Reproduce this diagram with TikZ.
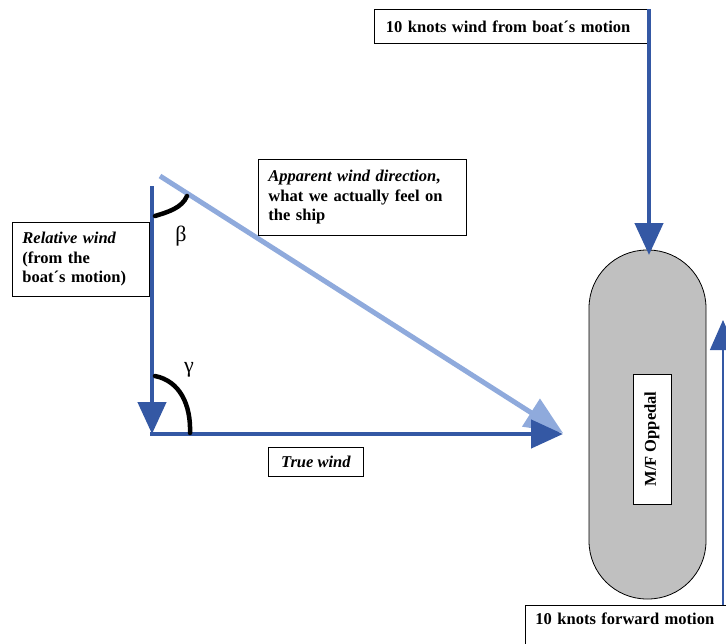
\documentclass[tikz,border=0pt]{standalone}
\usepackage{fontspec}
\setmainfont{Liberation Serif}
\usetikzlibrary{arrows.meta}
\definecolor{dblue}{HTML}{3458A4}
\definecolor{lblue}{HTML}{8FAADC}
\definecolor{shipgray}{HTML}{C0C0C0}
\tikzset{
  lbl/.style={draw=black, line width=0.9pt, fill=white, align=left, inner xsep=10pt, inner ysep=5pt, font=\fontsize{16.5}{19.5}\selectfont\bfseries, anchor=north west},
  bluearrow/.style={draw=dblue, line width=4.5pt, -{Triangle[length=32pt,width=28pt]}},
  lightarrow/.style={draw=lblue, line width=5pt, -{Triangle[length=38pt,width=32pt]}},
  anglearc/.style={draw=black, line width=4.5pt, line cap=round},
}
\begin{document}
\begin{tikzpicture}[x=1pt,y=-1pt]
\useasboundingbox (0,0) rectangle (726,643);
% ship
\node[draw=black, line width=0.8pt, fill=shipgray, rounded corners=58pt, minimum width=117pt, minimum height=349pt, inner sep=0pt] (ship) at (647.5,424.5) {};
\node[draw=black, line width=0.8pt, fill=white, minimum width=130pt, minimum height=38pt, inner sep=0pt, rotate=90, font=\fontsize{16.5}{18}\selectfont\bfseries] (name) at (652,439) {M/F Oppedal};
% top label and arrow
\node[lbl, minimum width=273pt, minimum height=34pt, text width=250pt] (top) at (374,9) {10 knots wind from boat´s motion};
\coordinate (topstart) at (649,9);
\draw[bluearrow] (topstart) -- (649,255);
% forward motion box and arrow
\node[lbl, minimum width=220pt, minimum height=50pt, text width=200pt, inner ysep=7pt] (fwd) at (525,605) {10 knots forward motion\\[0pt]\strut};
\coordinate (fwdtip) at (723,320);
\draw[draw=dblue, line width=1.3pt, -{Triangle[length=30pt,width=26pt]}] (723,605) -- (fwdtip);
% triangle
\coordinate (A) at (152,186);
\coordinate (B) at (152,434);
\coordinate (C) at (563,434);
\coordinate (D) at (160,176);
\draw[lightarrow] (D) -- (563,433);
\draw[bluearrow] (A) -- (B);
\draw[bluearrow] (150,434) -- (C);
% angle arcs
\draw[anglearc] (155,216) .. controls (168,212) and (182,208) .. (187,196);
\draw[anglearc] (155,376) .. controls (180,381) and (191,405) .. (190,433);
\node[font=\fontsize{22}{22}\selectfont] (beta) at (181,236) {β};
\node[font=\fontsize{22}{22}\selectfont] (gamma) at (189,370) {γ};
% labels
\node[lbl, text width=188pt, minimum height=76pt] (app) at (258,159) {\textit{Apparent wind direction}, what we actually feel on the ship};
\node[lbl, text width=117pt, minimum height=74pt] (rel) at (12,222) {\textit{Relative wind}\\(from the\\boat´s motion)};
\node[lbl, minimum width=95pt, minimum height=29pt] (true) at (268,447) {\textit{True wind}};
\end{tikzpicture}
\end{document}
